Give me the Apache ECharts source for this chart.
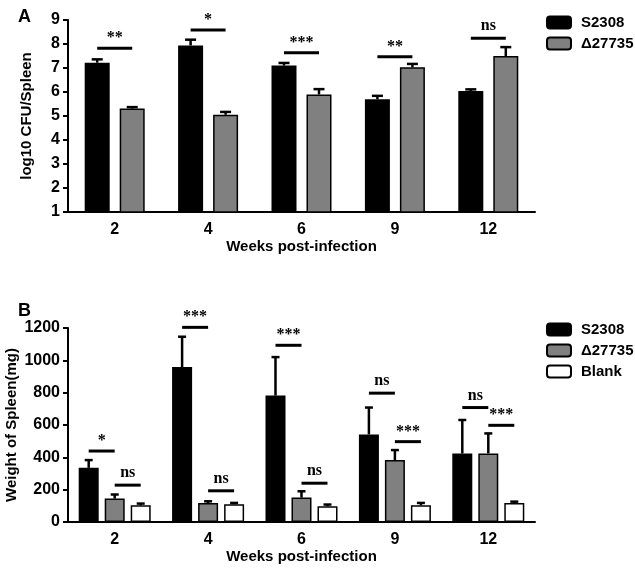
<!DOCTYPE html>
<html><head><meta charset="utf-8">
<script src="https://cdn.jsdelivr.net/npm/echarts@6/dist/echarts.min.js"></script>
<style>html,body{margin:0;padding:0;background:#fff}#c{width:635px;height:571px}</style>
</head><body><div id="c"></div>
<script>
// ---- data ----
const weeks = ['2', '4', '6', '9', '12'];
const groupNames = ['S2308', 'Δ27735', 'Blank'];
// Panel A: log10 CFU/Spleen (mean, upper SEM)
const cfuS2308 = [7.22, 7.94, 7.10, 5.70, 6.04];
const cfuS2308Err = [0.14, 0.24, 0.11, 0.14, 0.07];
const cfuMutant = [5.31, 5.05, 5.90, 7.03, 7.50];
const cfuMutantErr = [0.06, 0.12, 0.22, 0.14, 0.37];
const sigALevel = [7.82, 8.58, 7.64, 7.47, 8.24];
const sigAText = ['**', '*', '***', '**', 'ns'];
// Panel B: Weight of spleen (mg)
const wS2308 = [335, 958, 782, 542, 424];
const wS2308Err = [48, 188, 238, 166, 207];
const wMutant = [145, 118, 151, 383, 424];
const wMutantErr = [25, 10, 39, 62, 124];
const wBlank = [103, 110, 97, 103, 118];
const wBlankErr = [11, 8, 11, 15, 8];
const sigB1Level = [439, 1204, 1093, 797, 708];   // S2308 vs Δ27735
const sigB1Text = ['*', '***', '***', 'ns', 'ns'];
const sigB2Level = [228, 193, 240, 497, 598];     // Δ27735 vs Blank
const sigB2Text = ['ns', 'ns', 'ns', '***', '***'];

// ---- styles ----
const colors = ['#000000', '#808080', '#ffffff'];
const SANS = 'Liberation Sans, Arial, sans-serif';
const SERIF = 'Liberation Serif, Times New Roman, serif';
const A_BAR = 25, A_GAP = 0.4, B_BAR = 20, B_GAP = 0.3;

function offsetOf(g, n, bw, gap) { return (g - (n - 1) / 2) * bw * (1 + gap); }

function errSeries(axis, g, n, bw, gap, means, errs, capW) {
  return {
    type: 'custom', xAxisIndex: axis, yAxisIndex: axis, z: 5, silent: true,
    data: means.map((m, i) => [i, m, m + errs[i]]),
    renderItem: function (params, api) {
      const p0 = api.coord([api.value(0), api.value(1)]);
      const p1 = api.coord([api.value(0), api.value(2)]);
      const x = p0[0] + offsetOf(g, n, bw, gap);
      return { type: 'group', children: [
        { type: 'line', shape: { x1: x, y1: p0[1], x2: x, y2: p1[1] }, style: { stroke: '#000', lineWidth: 2.5 } },
        { type: 'line', shape: { x1: x - capW / 2, y1: p1[1], x2: x + capW / 2, y2: p1[1] }, style: { stroke: '#000', lineWidth: 2.5 } }
      ] };
    }
  };
}

function sigSeries(axis, gFrom, gTo, n, bw, gap, levels, texts) {
  return {
    type: 'custom', xAxisIndex: axis, yAxisIndex: axis, z: 6, silent: true,
    data: levels.map((l, i) => [i, l]),
    renderItem: function (params, api) {
      const p = api.coord([api.value(0), api.value(1)]);
      const x1 = p[0] + offsetOf(gFrom, n, bw, gap);
      const x2 = p[0] + offsetOf(gTo, n, bw, gap);
      const t = texts[params.dataIndex];
      const isNs = t === 'ns';
      return { type: 'group', children: [
        { type: 'line', shape: { x1: x1, y1: p[1], x2: x2, y2: p[1] }, style: { stroke: '#000', lineWidth: 3 } },
        { type: 'text', x: (x1 + x2) / 2, y: p[1] - (isNs ? 4 : 2),
          style: { text: t, fill: '#000', font: 'bold 16px ' + SERIF, align: 'center', verticalAlign: 'bottom' } }
      ] };
    }
  };
}

function barSeries(axis, g, data, bw, gap) {
  return {
    name: groupNames[g], type: 'bar', xAxisIndex: axis, yAxisIndex: axis,
    data: data, barWidth: bw, barGap: (gap * 100) + '%',
    itemStyle: { color: colors[g], borderColor: '#000', borderWidth: 1.5 },
    emphasis: { disabled: true }
  };
}

function xAxisCfg(grid) {
  return {
    type: 'category', gridIndex: grid, data: weeks,
    name: 'Weeks post-infection', nameLocation: 'middle', nameGap: 27, nameMoveOverlap: false,
    nameTextStyle: { fontFamily: SANS, fontWeight: 'bold', fontSize: 15, color: '#000' },
    axisLine: { lineStyle: { color: '#000', width: 2 } },
    axisTick: { alignWithLabel: true, length: 5, lineStyle: { color: '#000', width: 2 } },
    axisLabel: { fontFamily: SANS, fontWeight: 'bold', fontSize: 16, color: '#000', margin: 10 }
  };
}
function yAxisCfg(grid, name, min, max, interval, nameGap) {
  return {
    type: 'value', gridIndex: grid, min: min, max: max, interval: interval,
    name: name, nameLocation: 'middle', nameGap: nameGap, nameRotate: 90, nameMoveOverlap: false,
    nameTextStyle: { fontFamily: SANS, fontWeight: 'bold', fontSize: 15, color: '#000' },
    axisLine: { show: true, lineStyle: { color: '#000', width: 2 } },
    axisTick: { show: true, length: 5, lineStyle: { color: '#000', width: 2 } },
    axisLabel: { fontFamily: SANS, fontWeight: 'bold', fontSize: 16, color: '#000', margin: 8,
      formatter: function (v) { return String(v); } },
    splitLine: { show: false }
  };
}
function legendCfg(top, names) {
  return {
    orient: 'vertical', left: 541, top: top, itemWidth: 24, itemHeight: 12, itemGap: 6,
    icon: 'roundRect', data: names, selectedMode: false,
    textStyle: { fontFamily: SANS, fontWeight: 'bold', fontSize: 15, color: '#000', padding: [0, 0, 0, 5] }
  };
}

const chart = echarts.init(document.getElementById('c'), null, { renderer: 'canvas' });
chart.setOption({
  animation: false,
  backgroundColor: '#fff',
  title: [
    { text: 'A', left: 13, top: 3, textStyle: { fontFamily: SANS, fontWeight: 'bold', fontSize: 18, color: '#000' } },
    { text: 'B', left: 13, top: 297, textStyle: { fontFamily: SANS, fontWeight: 'bold', fontSize: 18, color: '#000' } }
  ],
  legend: [legendCfg(10, ['S2308', 'Δ27735']), legendCfg(317, ['S2308', 'Δ27735', 'Blank'])],
  grid: [
    { left: 68, right: 100, top: 20, height: 192, containLabel: false, outerBoundsMode: 'none' },
    { left: 68, right: 100, top: 328, height: 194, containLabel: false, outerBoundsMode: 'none' }
  ],
  xAxis: [xAxisCfg(0), xAxisCfg(1)],
  yAxis: [yAxisCfg(0, 'log10 CFU/Spleen', 1, 9, 1, 34), yAxisCfg(1, 'Weight of Spleen(mg)', 0, 1200, 200, 49)],
  series: [
    barSeries(0, 0, cfuS2308, A_BAR, A_GAP),
    barSeries(0, 1, cfuMutant, A_BAR, A_GAP),
    errSeries(0, 0, 2, A_BAR, A_GAP, cfuS2308, cfuS2308Err, 11),
    errSeries(0, 1, 2, A_BAR, A_GAP, cfuMutant, cfuMutantErr, 11),
    sigSeries(0, 0, 1, 2, A_BAR, A_GAP, sigALevel, sigAText),
    barSeries(1, 0, wS2308, B_BAR, B_GAP),
    barSeries(1, 1, wMutant, B_BAR, B_GAP),
    barSeries(1, 2, wBlank, B_BAR, B_GAP),
    errSeries(1, 0, 3, B_BAR, B_GAP, wS2308, wS2308Err, 8),
    errSeries(1, 1, 3, B_BAR, B_GAP, wMutant, wMutantErr, 8),
    errSeries(1, 2, 3, B_BAR, B_GAP, wBlank, wBlankErr, 8),
    sigSeries(1, 0, 1, 3, B_BAR, B_GAP, sigB1Level, sigB1Text),
    sigSeries(1, 1, 2, 3, B_BAR, B_GAP, sigB2Level, sigB2Text)
  ]
});
</script></body></html>
